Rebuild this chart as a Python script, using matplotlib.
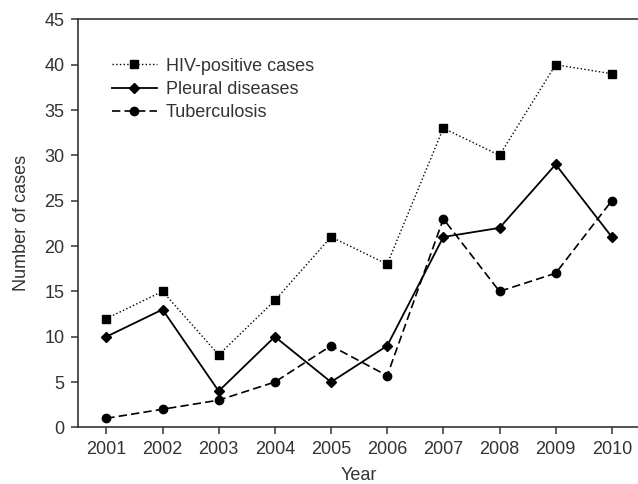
import matplotlib.pyplot as plt

plt.rcParams['font.family'] = ['Liberation Sans', 'DejaVu Sans']

years = [2001, 2002, 2003, 2004, 2005, 2006, 2007, 2008, 2009, 2010]
hiv = [12, 15, 8, 14, 21, 18, 33, 30, 40, 39]
pleural = [10, 13, 4, 10, 5, 9, 21, 22, 29, 21]
tb = [1, 2, 3, 5, 9, 5.7, 23, 15, 17, 25]

fig = plt.figure(figsize=(6.38, 4.84), dpi=100)
ax = fig.add_axes([0.1227, 0.117, 0.8803, 0.843])

ax.plot(years, hiv, color='black', linestyle=':', linewidth=1.0,
        marker='s', markersize=5.5, label='HIV-positive cases')
ax.plot(years, pleural, color='black', linestyle='-', linewidth=1.3,
        marker='D', markersize=5.5, label='Pleural diseases')
ax.plot(years, tb, color='black', linestyle=(0, (5, 2.5)), linewidth=1.2,
        marker='o', markersize=6, label='Tuberculosis')

ax.set_xlim(2000.5, 2010.5)
ax.set_ylim(0, 45)
ax.set_xticks(years)
ax.set_yticks(range(0, 46, 5))

ax.spines['right'].set_visible(False)
for s in ['left', 'bottom', 'top']:
    ax.spines[s].set_color('#333333')
    ax.spines[s].set_linewidth(1.2)

ax.tick_params(axis='both', direction='out', length=5, width=1.1,
               color='#333333', labelsize=13, labelcolor='#333333')
ax.tick_params(axis='x', pad=5)
ax.tick_params(axis='y', pad=5)

ax.set_xlabel('Year', fontsize=13, color='#333333', labelpad=6)
ax.set_ylabel('Number of cases', fontsize=13, color='#333333', labelpad=10)

ax.legend(loc='upper left', bbox_to_anchor=(0.047, 0.924), frameon=False,
          fontsize=13, handlelength=2.5, handletextpad=0.5, labelspacing=0.35,
          borderaxespad=0, labelcolor='#333333')

fig.savefig('out.png', dpi=100)
